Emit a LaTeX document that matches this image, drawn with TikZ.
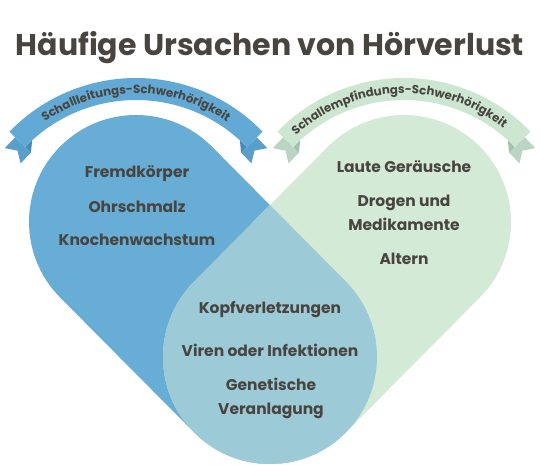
\documentclass[tikz,border=0pt]{standalone}
\usepackage{fontspec}
\setmainfont{Poppins}
\usetikzlibrary{calc,decorations.text}

\definecolor{txtgray}{HTML}{48443F}
\definecolor{capblue}{HTML}{67ADD6}
\definecolor{capgreen}{HTML}{D3EAD6}
\definecolor{capteal}{HTML}{9DCAD7}
\definecolor{bandblue}{HTML}{62A9D5}
\definecolor{tailblue}{HTML}{5A9FCB}
\definecolor{foldblue}{HTML}{4A8CB8}
\definecolor{bandgreen}{HTML}{CDE6D2}
\definecolor{tailgreen}{HTML}{BAD5C3}
\definecolor{foldgreen}{HTML}{A3C2AF}

\newcommand\bannerfont{\bfseries\fontsize{11.8}{12}\selectfont\color{txtgray}}

\begin{document}
\begin{tikzpicture}[
	x=1pt,y=1pt,
	item/.style={
		anchor=base,
		inner sep=0pt,
		text=txtgray,
		font=\bfseries\fontsize{15.5}{18}\selectfont
	},
	band/.style={line width=22pt},
	pics/ribbontail/.style 2 args={
		code={
			\fill[#1] (0,-14) -- (15,-14) -- (8,-3) -- (15,8) -- (0,8) -- cycle;
			\fill[#2] (0,0) -- (-10,0) -- (0,8) -- cycle;
		}
	}
	]
	\useasboundingbox (0,0) rectangle (548,464);
	\def\capr{107}
	
	\coordinate (A) at (136,242);
	\coordinate (B) at (404,242);
	\coordinate (C) at (270,107);
	\coordinate (LC) at (136,210);
	\coordinate (RC) at (404,210);
	
	\node[item,font=\bfseries\fontsize{30}{32}\selectfont] (title) at (270,408)
	{Häufige Ursachen von Hörverlust};
	
	% heart
	\fill[capblue] ($(A)+(45:\capr)$) arc[start angle=45,end angle=225,radius=\capr]
	-- ($(C)+(225:\capr)$) arc[start angle=225,end angle=405,radius=\capr] -- cycle;
	\fill[capgreen] ($(B)+(-45:\capr)$) arc[start angle=-45,end angle=135,radius=\capr]
	-- ($(C)+(135:\capr)$) arc[start angle=135,end angle=315,radius=\capr] -- cycle;
	\begin{scope}
		\clip ($(A)+(45:\capr)$) arc[start angle=45,end angle=225,radius=\capr]
		-- ($(C)+(225:\capr)$) arc[start angle=225,end angle=405,radius=\capr] -- cycle;
		\fill[capteal] ($(B)+(-45:\capr)$) arc[start angle=-45,end angle=135,radius=\capr]
		-- ($(C)+(135:\capr)$) arc[start angle=135,end angle=315,radius=\capr] -- cycle;
	\end{scope}
	
	% banners
	\pic[rotate=226] at ($(LC)+(136:154)$) {ribbontail={tailblue}{foldblue}};
	\pic[rotate=-46,yscale=-1] at ($(LC)+(44:154)$) {ribbontail={tailblue}{foldblue}};
	\draw[band,bandblue] ($(LC)+(136:165)$) arc[start angle=136,end angle=44,radius=165];
	\path[decorate,decoration={text along path,text align=center,
		text={|\bannerfont|Schallleitungs-Schwerhörigkeit}}]
	($(LC)+(150:160.5)$) arc[start angle=150,end angle=30,radius=160.5];
	
	\pic[rotate=226] at ($(RC)+(136:154)$) {ribbontail={tailgreen}{foldgreen}};
	\pic[rotate=-46,yscale=-1] at ($(RC)+(44:154)$) {ribbontail={tailgreen}{foldgreen}};
	\draw[band,bandgreen] ($(RC)+(136:165)$) arc[start angle=136,end angle=44,radius=165];
	\path[decorate,decoration={text along path,text align=center,
		text={|\bannerfont|Schallempfindungs-Schwerhörigkeit}}]
	($(RC)+(154:160.5)$) arc[start angle=154,end angle=30,radius=160.5];
	
	% left
	\node[item] (fremd) at (137,287) {Fremdkörper};
	\node[item] (ohr) at (137,252) {Ohrschmalz};
	\node[item] (knochen) at (137,219) {Knochenwachstum};
	
	% right
	\node[item] (laut) at (404,291) {Laute Geräusche};
	\node[item] (drogen) at (404,258) {Drogen und};
	\node[item] (medi) at (404,234) {Medikamente};
	\node[item] (altern) at (404,200) {Altern};
	
	% overlap
	\node[item] (kopf) at (270,151) {Kopfverletzungen};
	\node[item] (viren) at (270,108) {Viren oder Infektionen};
	\node[item] (gen) at (271,74) {Genetische};
	\node[item] (veran) at (271,50) {Veranlagung};
	
\end{tikzpicture}
\end{document}
